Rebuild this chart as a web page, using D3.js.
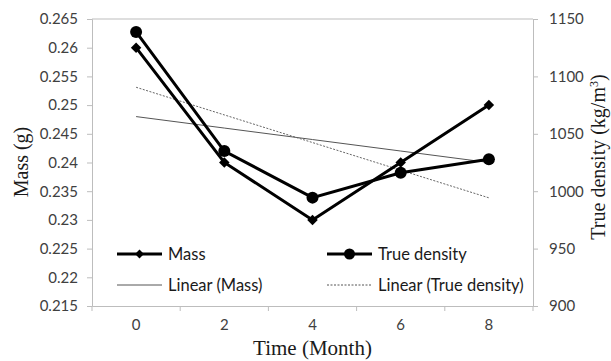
<!DOCTYPE html>
<html>

<head>
    <meta charset="utf-8">
    <style>
        body {
            margin: 0;
            background: #fff;
        }

        svg {
            display: block;
        }

        .tick text {
            font-family: Lato, 'Open Sans', sans-serif;
            font-size: 15px;
            fill: #404040;
        }

        .tick line,
        .domain {
            stroke: #bdbdbd;
        }

        .axis-title {
            font-family: 'Liberation Serif', 'Times New Roman', serif;
            font-size: 20px;
            fill: #1a1a1a;
        }

        .legend text {
            font-family: Lato, 'Open Sans', sans-serif;
            font-size: 16.5px;
            fill: #1a1a1a;
        }
    </style>
</head>

<body>
    <svg width="611" height="361"></svg>
</body>

<script src="https://d3js.org/d3.v7.min.js"></script>

<script>
    // data
    let months = ["0", "2", "4", "6", "8"]
    let mass = [0.26, 0.24, 0.23, 0.24, 0.25]
    let density = [1138.7, 1035, 994.4, 1016, 1027.8]

    let massTicks = [0.215, 0.22, 0.225, 0.23, 0.235, 0.24, 0.245, 0.25, 0.255, 0.26, 0.265]
    let densityTicks = [900, 950, 1000, 1050, 1100, 1150]

    let margin = { top: 19, right: 78, bottom: 55, left: 92 }
    let width = 611
    let height = 361

    let svg = d3.select("svg")

    let x = d3.scaleBand()
        .domain(months)
        .range([margin.left, width - margin.right])

    let yMass = d3.scaleLinear()
        .domain([0.215, 0.265])
        .range([height - margin.bottom, margin.top])

    let yDens = d3.scaleLinear()
        .domain([900, 1150])
        .range([height - margin.bottom, margin.top])

    let cx = d => x(d) + x.bandwidth() / 2

    // least squares trend, like Excel's "Linear" trendline
    function trend(values) {
        let xs = values.map((v, i) => i + 1)
        let mx = d3.mean(xs)
        let my = d3.mean(values)
        let slope = d3.sum(xs, (xi, i) => (xi - mx) * (values[i] - my)) / d3.sum(xs, xi => (xi - mx) ** 2)
        return xs.map(xi => my + slope * (xi - mx))
    }

    // frame
    svg.append("line")
        .attr("x1", margin.left).attr("x2", width - margin.right)
        .attr("y1", margin.top).attr("y2", margin.top)
        .attr("stroke", "#bdbdbd")

    // axes
    svg.append("g")
        .attr("class", "y axis")
        .attr("transform", `translate(${margin.left},0)`)
        .call(d3.axisLeft(yMass).tickValues(massTicks).tickSize(5).tickPadding(9)
            .tickFormat(d => String(+d.toFixed(3))))

    svg.append("g")
        .attr("class", "y2 axis")
        .attr("transform", `translate(${width - margin.right},0)`)
        .call(d3.axisRight(yDens).tickValues(densityTicks).tickSize(5).tickPadding(11)
            .tickFormat(d3.format("d")))

    let xAxis = svg.append("g")
        .attr("class", "x axis")
        .attr("transform", `translate(0,${height - margin.bottom})`)
        .call(d3.axisBottom(x).tickSize(0).tickPadding(13))

    // category boundary ticks
    let bounds = months.map(m => x(m)).concat([x(months[months.length - 1]) + x.bandwidth()])

    xAxis.selectAll(".bound")
        .data(bounds)
        .join("line")
        .attr("class", "bound")
        .attr("x1", d => d)
        .attr("x2", d => d)
        .attr("y1", 0)
        .attr("y2", 5)
        .attr("stroke", "#bdbdbd")

    // trendlines
    let massTrend = trend(mass)
    let densTrend = trend(density)

    svg.append("path")
        .datum(massTrend)
        .attr("fill", "none")
        .attr("stroke", "#555")
        .attr("stroke-width", 1)
        .attr("d", d3.line().x((d, i) => cx(months[i])).y(d => yMass(d)))

    svg.append("path")
        .datum(densTrend)
        .attr("fill", "none")
        .attr("stroke", "#666")
        .attr("stroke-width", 1)
        .attr("stroke-dasharray", "2,1.5")
        .attr("d", d3.line().x((d, i) => cx(months[i])).y(d => yDens(d)))

    // series lines
    svg.append("path")
        .datum(mass)
        .attr("fill", "none")
        .attr("stroke", "#000")
        .attr("stroke-width", 3)
        .attr("d", d3.line().x((d, i) => cx(months[i])).y(d => yMass(d)))

    svg.append("path")
        .datum(density)
        .attr("fill", "none")
        .attr("stroke", "#000")
        .attr("stroke-width", 3)
        .attr("d", d3.line().x((d, i) => cx(months[i])).y(d => yDens(d)))

    // markers
    let diamond = d3.symbol().type(d3.symbolDiamond2).size(70)

    svg.selectAll(".mass-pt")
        .data(mass)
        .join("path")
        .attr("class", "mass-pt")
        .attr("transform", (d, i) => `translate(${cx(months[i])},${yMass(d)})`)
        .attr("d", diamond)
        .attr("fill", "#000")

    svg.selectAll(".dens-pt")
        .data(density)
        .join("circle")
        .attr("class", "dens-pt")
        .attr("cx", (d, i) => cx(months[i]))
        .attr("cy", d => yDens(d))
        .attr("r", 6)
        .attr("fill", "#000")

    // axis titles
    svg.append("text")
        .attr("class", "axis-title")
        .attr("text-anchor", "middle")
        .attr("transform", "translate(28,162) rotate(-90)")
        .text("Mass (g)")

    svg.append("text")
        .attr("class", "axis-title")
        .attr("text-anchor", "middle")
        .attr("transform", "translate(605,157) rotate(-90)")
        .html("True density (kg/m<tspan baseline-shift='super' font-size='12px'>3</tspan>)")

    svg.append("text")
        .attr("class", "axis-title")
        .attr("text-anchor", "middle")
        .attr("font-size", "21px")
        .style("font-size", "21px")
        .attr("x", (margin.left + width - margin.right) / 2)
        .attr("y", 355)
        .text("Time (Month)")

    // legend
    let legendItems = [
        { label: "Mass", col: 0, row: 0, marker: "diamond", width: 3, dash: null },
        { label: "True density", col: 1, row: 0, marker: "circle", width: 3, dash: null },
        { label: "Linear (Mass)", col: 0, row: 1, marker: null, width: 1, dash: null },
        { label: "Linear (True density)", col: 1, row: 1, marker: null, width: 1, dash: "2,1.5" }
    ]

    let legend = svg.append("g")
        .attr("class", "legend")
        .selectAll("g")
        .data(legendItems)
        .join("g")
        .attr("transform", d => `translate(${117 + d.col * 210},${254 + d.row * 31})`)

    legend.append("line")
        .attr("x1", 0)
        .attr("x2", 45)
        .attr("stroke", d => d.width == 3 ? "#000" : "#555")
        .attr("stroke-width", d => d.width)
        .attr("stroke-dasharray", d => d.dash)

    legend.filter(d => d.marker == "diamond")
        .append("path")
        .attr("transform", "translate(22.5,0)")
        .attr("d", d3.symbol().type(d3.symbolDiamond2).size(50))

    legend.filter(d => d.marker == "circle")
        .append("circle")
        .attr("cx", 22.5)
        .attr("r", 5.5)

    legend.append("text")
        .attr("x", 51)
        .attr("dy", "0.35em")
        .text(d => d.label)
</script>

</html>
